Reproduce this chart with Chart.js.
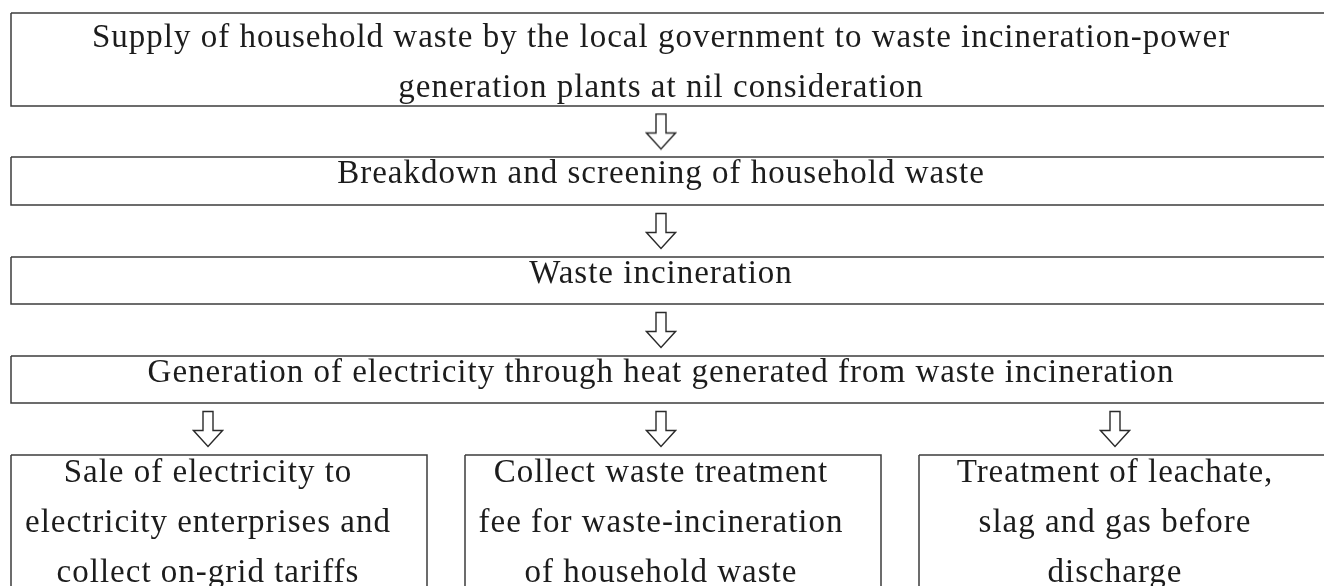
<!DOCTYPE html>
<html>
<head>
<meta charset="utf-8">
<script src="https://cdn.jsdelivr.net/npm/chart.js@4"></script>
<style>
html, body { margin: 0; padding: 0; background: #fff; overflow: hidden; }
</style>
</head>
<body>
<canvas id="flow" width="1324" height="586"></canvas>
<script>
// flow steps, top to bottom
const steps = [
    ["Supply of household waste by the local government to waste incineration-power", "generation plants at nil consideration"],
    ["Breakdown and screening of household waste"],
    ["Waste incineration"],
    ["Generation of electricity through heat generated from waste incineration"]
];
// the three results of the last step, left to right
const outcomes = [
    ["Sale of electricity to", "electricity enterprises and", "collect on-grid tariffs"],
    ["Collect waste treatment", "fee for waste-incineration", "of household waste"],
    ["Treatment of leachate,", "slag and gas before", "discharge"]
];

// layout, in page pixels (the hidden scales map 1:1)
const W = 1324, H = 586;
const stepRows = [[13, 106], [157, 205], [257, 304], [356, 403]];
const stepLeft = 11, stepRight = 1335;
const stepBaselines = [[47, 97], [183], [283], [382]];
const mainX = 661;
const outcomeCols = [[11, 427], [465, 881], [919, 1335]];
const outcomeTop = 455, outcomeBottom = 640;
const outcomeBaselines = [482, 532, 582];
const branchX = [208, 661, 1115];
const FONT = "33px 'Liberation Serif', 'Times New Roman', serif";

function rectPath(x0, y0, x1, y1) {
    return [{x: x0, y: y0}, {x: x1, y: y0}, {x: x1, y: y1}, {x: x0, y: y1}, {x: x0, y: y0}];
}

function makeArrow() {
    const c = document.createElement("canvas");
    c.width = 32;
    c.height = 38;
    const g = c.getContext("2d");
    const cx = 16;
    g.beginPath();
    g.moveTo(cx - 5, 1.5);
    g.lineTo(cx + 5, 1.5);
    g.lineTo(cx + 5, 20.5);
    g.lineTo(cx + 14.5, 20.5);
    g.lineTo(cx, 36.5);
    g.lineTo(cx - 14.5, 20.5);
    g.lineTo(cx - 5, 20.5);
    g.closePath();
    g.fillStyle = "#fff";
    g.fill();
    g.lineWidth = 1.4;
    g.strokeStyle = "#2a2a2a";
    g.stroke();
    return c;
}

const boxSets = [];
stepRows.forEach(r => boxSets.push(rectPath(stepLeft, r[0], stepRight, r[1])));
outcomeCols.forEach(c => boxSets.push(rectPath(c[0], outcomeTop, c[1], outcomeBottom)));

const arrowPoints = [];
for (let i = 0; i < stepRows.length - 1; i++) {
    arrowPoints.push({x: mainX, y: (stepRows[i][1] + stepRows[i + 1][0]) / 2});
}
branchX.forEach(x => arrowPoints.push({x: x, y: (stepRows[3][1] + outcomeTop) / 2}));

const datasets = boxSets.map(pts => ({
    data: pts,
    showLine: true,
    borderColor: "#3c3c3c",
    borderWidth: 1.5,
    pointRadius: 0,
    fill: false,
    tension: 0
}));
datasets.push({
    data: arrowPoints,
    showLine: false,
    pointStyle: makeArrow(),
    pointRadius: 16
});

const textPlugin = {
    id: "boxText",
    afterDatasetsDraw(chart) {
        const ctx = chart.ctx;
        const sx = chart.scales.x, sy = chart.scales.y;
        ctx.save();
        ctx.font = FONT;
        ctx.letterSpacing = "1px";
        ctx.fillStyle = "#1c1c1c";
        ctx.textAlign = "center";
        ctx.textBaseline = "alphabetic";
        steps.forEach((lines, i) => {
            lines.forEach((t, j) => {
                ctx.fillText(t, sx.getPixelForValue(mainX), sy.getPixelForValue(stepBaselines[i][j]));
            });
        });
        outcomes.forEach((lines, i) => {
            lines.forEach((t, j) => {
                ctx.fillText(t, sx.getPixelForValue(branchX[i]), sy.getPixelForValue(outcomeBaselines[j]));
            });
        });
        ctx.restore();
    }
};

new Chart(document.getElementById("flow"), {
    type: "scatter",
    data: { datasets: datasets },
    options: {
        responsive: false,
        animation: false,
        devicePixelRatio: 1,
        layout: { padding: 0, autoPadding: false },
        plugins: { legend: { display: false }, tooltip: { enabled: false } },
        scales: {
            x: { type: "linear", min: 0, max: W, display: false },
            y: { type: "linear", min: 0, max: H, reverse: true, display: false }
        }
    },
    plugins: [textPlugin]
});
</script>
</body>
</html>
